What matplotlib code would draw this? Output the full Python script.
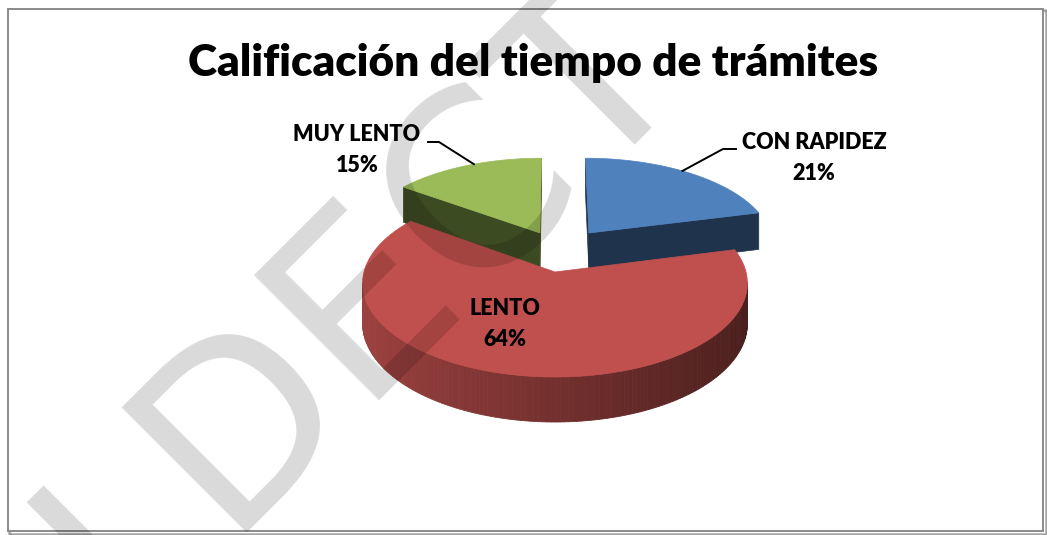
import matplotlib
matplotlib.use("Agg")
import matplotlib.pyplot as plt
from matplotlib.patches import Polygon, Rectangle
import numpy as np

# data
labels = ["CON RAPIDEZ", "LENTO", "MUY LENTO"]
values = [21, 64, 15]
top_colors = ["#4F81BD", "#C0504D", "#9BBB59"]
cut_colors = ["#1F334D", "#7A2F2D", "#3D4B22"]
explode = [(0.187, 0.445), (0.0, 0.0), (-0.083, 0.445)]   # model offsets (x, y)
title = "Calificación del tiempo de trámites"

# projection of a tilted disk, pixel coords
CX, CY = 555, 272
FX, FY, FZ, K = 191, 92.4, 39.6, 0.12
CAM = np.array([0.0, -1.0 / K, FY / (K * FZ)])


def proj(X, Y, Z):
    w = 1 + K * Y
    return CX + FX * X / w, CY - (FY * Y + FZ * Z) / w


def visible(n, p):
    return np.dot(n, CAM - np.array(p)) > 0


def shade(c, f):
    r, g, b = matplotlib.colors.to_rgb(c)
    return (r * f, g * f, b * f)


fig = plt.figure(figsize=(10.47, 5.35), dpi=100)
ax = fig.add_axes([0, 0, 1, 1])
ax.set_xlim(0, 1047)
ax.set_ylim(535, 0)
ax.axis("off")

# chart frame with a soft shadow
for i, a in enumerate([0.10, 0.18, 0.30]):
    ax.add_patch(Rectangle((8 + 3 - i, 9 + 3 - i), 1037, 524, fill=False,
                           edgecolor=(0, 0, 0, a), lw=1.2, zorder=0))
ax.add_patch(Rectangle((8, 9), 1035, 522, facecolor="white",
                       edgecolor="#8a8a8a", lw=1.4, zorder=1))

total = float(sum(values))
bounds = np.concatenate([[0], np.cumsum(values)]) / total * 2 * np.pi

# back slices first (exploded ones), then the big one in front
order = [0, 2, 1]
for i in order:
    a0, a1 = bounds[i], bounds[i + 1]
    ox, oy = explode[i]
    th = np.linspace(a0, a1, 200)
    # cut faces
    for a, n in [(a0, (-np.cos(a0), np.sin(a0), 0)), (a1, (np.cos(a1), -np.sin(a1), 0))]:
        mid = (ox + 0.5 * np.sin(a), oy + 0.5 * np.cos(a), -0.5)
        if visible(n, mid):
            pts = [proj(ox, oy, 0), proj(ox + np.sin(a), oy + np.cos(a), 0),
                   proj(ox + np.sin(a), oy + np.cos(a), -1), proj(ox, oy, -1)]
            ax.add_patch(Polygon(pts, closed=True, facecolor=cut_colors[i],
                                 edgecolor=cut_colors[i], lw=0.5, zorder=2))
    # outer rim, thin strips
    for t0, t1 in zip(th[:-1], th[1:]):
        tm = 0.5 * (t0 + t1)
        n = (np.sin(tm), np.cos(tm), 0)
        if not visible(n, (ox + np.sin(tm), oy + np.cos(tm), -0.5)):
            continue
        f = 0.6 - 0.22 * np.sin(tm)
        col = shade(top_colors[i], f)
        pts = [proj(ox + np.sin(t0), oy + np.cos(t0), 0), proj(ox + np.sin(t1), oy + np.cos(t1), 0),
               proj(ox + np.sin(t1), oy + np.cos(t1), -1), proj(ox + np.sin(t0), oy + np.cos(t0), -1)]
        ax.add_patch(Polygon(pts, closed=True, facecolor=col, edgecolor=col,
                             lw=0.6, zorder=2))
    # top face
    pts = [proj(ox, oy, 0)] + [proj(ox + np.sin(t), oy + np.cos(t), 0) for t in th]
    ax.add_patch(Polygon(pts, closed=True, facecolor=top_colors[i],
                         edgecolor=top_colors[i], lw=0.5, zorder=2))

ax.text(533, 63, title, ha="center", va="center", fontsize=31.8,
        fontweight="heavy", family="Lato", zorder=5)

lab_font = dict(fontsize=15.5, fontweight="heavy", family="Lato", ha="center",
                va="center", zorder=5, linespacing=1.55)
ax.text(814, 158, f"{labels[0]}\n{values[0]}%", **lab_font)
ax.text(505, 324, f"{labels[1]}\n{values[1]}%", **lab_font)
ax.text(357, 150, f"{labels[2]}\n{values[2]}%", **lab_font)

# leader lines from the rim of the exploded slices
for i, ang, elbow, end in [(0, 0.62, (723, 149), (736, 149)), (2, 5.86, (439, 142), (428, 142))]:
    ox, oy = explode[i]
    px, py = proj(ox + np.sin(ang), oy + np.cos(ang), 0)
    ax.plot([px, elbow[0], end[0]], [py, elbow[1], end[1]], color="black",
            lw=1.4, zorder=4)

# faint diagonal watermark
ax.text(128, 628, "LDECT", fontsize=175, family="DejaVu Sans", rotation=45,
        rotation_mode="anchor", ha="left", va="baseline",
        color=(0, 0, 0, 0.15), zorder=6)

fig.savefig("out.png", dpi=100)
